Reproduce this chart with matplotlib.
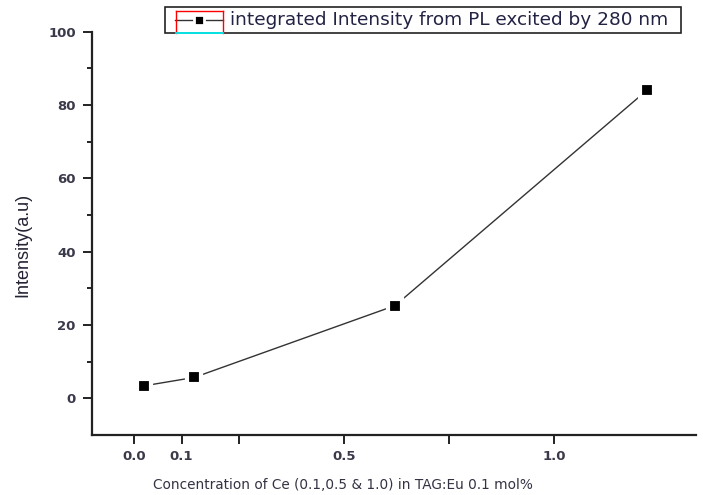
import matplotlib
matplotlib.use("Agg")
import matplotlib.pyplot as plt
from matplotlib.lines import Line2D
from matplotlib.patches import Rectangle

# data
conc = [0.024, 0.144, 0.622, 1.222]
intensity = [3.4, 5.7, 25.3, 84.1]

xtick_pos = [0.0, 0.114, 0.25, 0.5, 0.75, 1.0]
xtick_lab = ['0.0', '0.1', '', '0.5', '', '1.0']
ytick_pos = [0, 20, 40, 60, 80, 100]
series_name = 'integrated Intensity from PL excited by 280 nm'

plt.rcParams['font.family'] = ['Liberation Sans', 'DejaVu Sans']

fig = plt.figure(figsize=(7.03, 4.95), dpi=100)
ax = fig.add_axes([0.1304, 0.1212, 0.8596, 0.8148])

line_style = dict(color='#333333', lw=1.0, marker='s', ms=10.2,
                  mfc='black', mec='white', mew=3)
ax.plot(conc, intensity, '-', label=series_name, **line_style)

ax.set_xlim(-0.1, 1.338)
ax.set_ylim(-10, 100)
ax.spines['top'].set_visible(False)
ax.spines['right'].set_visible(False)
for s in ['left', 'bottom']:
    ax.spines[s].set_linewidth(1.6)
    ax.spines[s].set_color('#222222')

ax.set_xticks(xtick_pos)
ax.set_xticklabels(xtick_lab)
ax.set_yticks(ytick_pos)
ax.set_yticks([10, 30, 50, 70, 90], minor=True)
ax.tick_params(axis='both', which='major', direction='out', length=6.5, width=1.4,
               color='#222222', labelsize=9.5, labelcolor='#3a3a4a')
ax.tick_params(axis='y', which='minor', direction='out', length=3.5, width=1.4,
               color='#222222')
ax.tick_params(axis='x', pad=4)
ax.tick_params(axis='y', pad=5)
for lab in ax.get_xticklabels() + ax.get_yticklabels():
    lab.set_fontfamily('DejaVu Sans')
    lab.set_fontweight('bold')

ax.set_ylabel('Intensity(a.u)', fontsize=13, color='#222233', va='center')
ax.yaxis.set_label_coords(-0.114, 0.471)
ax.set_xlabel('Concentration of Ce (0.1,0.5 & 1.0) in TAG:Eu 0.1 mol%',
              fontsize=9.8, color='#333344', family='DejaVu Sans', va='center')
ax.xaxis.set_label_coords(0.415, -0.124)

# legend box drawn by hand, in pixel positions of the figure
w, h = 703.0, 495.0
fig.add_artist(Rectangle((165 / w, 1 - 33 / h), 516 / w, 26 / h, transform=fig.transFigure,
                         fill=False, edgecolor='#222222', lw=1.2))
fig.add_artist(Line2D([175 / w, 223 / w], [1 - 20 / h, 1 - 20 / h], color='#333333', lw=1.0))
fig.add_artist(Line2D([199 / w], [1 - 20 / h], ls='none', marker='s', ms=7.5,
                      mfc='black', mec='white', mew=2))
fig.text(230 / w, 1 - 20 / h, series_name, fontsize=13.3, family='DejaVu Sans',
         color='#222244', va='center', ha='left')

# red/cyan box around the legend symbol
fig.add_artist(Line2D([176 / w, 223 / w], [1 - 11 / h, 1 - 11 / h], color='red', lw=1))
fig.add_artist(Line2D([176 / w, 176 / w], [1 - 11 / h, 1 - 32.5 / h], color='red', lw=1))
fig.add_artist(Line2D([223 / w, 223 / w], [1 - 11 / h, 1 - 32.5 / h], color='red', lw=1))
fig.add_artist(Line2D([176 / w, 223 / w], [1 - 32.5 / h, 1 - 32.5 / h], color='cyan', lw=1.2))

fig.savefig('out.png', dpi=100)
